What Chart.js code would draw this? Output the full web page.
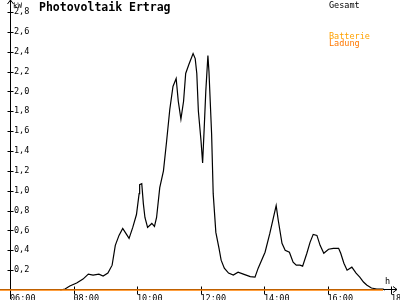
<!DOCTYPE html>
<html>
<head>
<meta charset="utf-8">
<script src="https://cdn.jsdelivr.net/npm/chart.js@4/dist/chart.umd.min.js"></script>
<style>
  body { margin: 0; background: #fff; }
  canvas { display: block; }
</style>
</head>
<body>
<canvas id="pv-chart" width="400" height="300"></canvas>
<script>
// PV Ertrag (Gesamt)
var times = ["07:35","07:44","07:53","08:06","08:18","08:28","08:37","08:48","08:56","09:05",
  "09:13","09:19","09:26","09:33","09:39","09:45","09:52","09:59","10:04","10:05",
  "10:09","10:12","10:15","10:20","10:28","10:33","10:37","10:43","10:50","10:56",
  "11:02","11:08","11:14","11:18","11:23","11:28","11:32","11:38","11:46","11:50",
  "11:53","11:56","12:01","12:04","12:07","12:10","12:14","12:16","12:21","12:24",
  "12:29","12:35","12:39","12:45","12:53","13:02","13:11","13:21","13:34","13:43",
  "13:49","14:02","14:11","14:23","14:27","14:34","14:40","14:48","14:55","15:01",
  "15:08","15:13","15:21","15:27","15:33","15:40","15:46","15:53","16:02","16:11",
  "16:21","16:25","16:31","16:37","16:46","16:54","17:01","17:08","17:14","17:23",
  "17:33","17:45","17:49"];
var gesamt = [0.00,0.01,0.04,0.07,0.11,0.16,0.15,0.16,0.14,0.17,
  0.25,0.45,0.55,0.62,0.57,0.52,0.63,0.76,0.97,1.06,
  1.07,0.87,0.73,0.63,0.67,0.64,0.73,1.03,1.20,1.50,
  1.82,2.05,2.13,1.90,1.72,1.90,2.18,2.27,2.38,2.33,
  2.18,1.80,1.50,1.28,1.63,2.00,2.36,2.20,1.57,0.97,
  0.58,0.42,0.30,0.22,0.17,0.15,0.18,0.16,0.135,0.13,
  0.22,0.38,0.57,0.85,0.70,0.47,0.40,0.38,0.28,0.25,
  0.25,0.24,0.37,0.48,0.56,0.55,0.45,0.37,0.41,0.42,
  0.42,0.37,0.27,0.20,0.23,0.17,0.13,0.08,0.05,0.02,
  0.01,0.01,0.00];

// Batterie Ladung
var ladungTimes = ["05:41", "17:45"];
var ladung = [0, 0];

var yTicks = [0.2, 0.4, 0.6, 0.8, 1.0, 1.2, 1.4, 1.6, 1.8, 2.0, 2.2, 2.4, 2.6, 2.8];
var xTickHours = [6, 8, 10, 12, 14, 16, 18];

function toHours(t) {
  var p = t.split(":");
  return parseInt(p[0], 10) + parseInt(p[1], 10) / 60;
}
function pad2(n) { return (n < 10 ? "0" : "") + n; }

var mono = "'DejaVu Sans Mono', monospace";

var axisDecor = {
  id: "axisDecor",
  beforeDatasetsDraw(chart) {
    var ctx = chart.ctx;
    var x = chart.scales.x, y = chart.scales.y;
    var x0 = Math.round(x.getPixelForValue(6)) + 0.5;
    var y0 = Math.round(y.getPixelForValue(0)) - 0.5;
    ctx.save();
    ctx.strokeStyle = "#000";
    ctx.lineWidth = 1;
    ctx.beginPath();
    ctx.moveTo(x0, 299);
    ctx.lineTo(x0, 0);
    ctx.moveTo(0, y0);
    ctx.lineTo(397, y0);
    y.ticks.forEach(function (t) {
      if (t.value <= 0) return;
      var p = Math.round(y.getPixelForValue(t.value)) + 0.5;
      ctx.moveTo(x0 - 3, p);
      ctx.lineTo(x0 + 3, p);
    });
    x.ticks.forEach(function (t) {
      var p = Math.round(x.getPixelForValue(t.value)) + 0.5;
      ctx.moveTo(p, y0 - 3);
      ctx.lineTo(p, y0 + 5);
    });
    // arrows
    ctx.moveTo(x0 - 3, 4);
    ctx.lineTo(x0, 0);
    ctx.lineTo(x0 + 3, 4);
    ctx.moveTo(393, y0 - 3);
    ctx.lineTo(397, y0);
    ctx.lineTo(393, y0 + 3);
    ctx.stroke();
    ctx.restore();
  },
  afterDraw(chart) {
    var ctx = chart.ctx;
    ctx.save();
    ctx.textBaseline = "alphabetic";
    ctx.textAlign = "left";
    ctx.fillStyle = "#000";
    ctx.font = "bold 11.5px " + mono;
    ctx.fillText("Photovoltaik Ertrag", 39, 11);
    ctx.font = "7.5px " + mono;
    ctx.fillText("kW", 13, 8);
    ctx.font = "8.5px " + mono;
    ctx.fillText("Gesamt", 329, 8);
    ctx.fillText("h", 385, 284);
    ctx.fillStyle = "#ffa200";
    ctx.fillText("Batterie", 329, 39);
    ctx.fillStyle = "#ff7800";
    ctx.fillText("Ladung", 329, 46);
    ctx.restore();
  }
};

var ctx1 = document.getElementById("pv-chart").getContext("2d");

new Chart(ctx1, {
  type: "line",
  data: {
    datasets: [
      {
        label: "Batterie Ladung",
        data: ladungTimes.map(function (t, i) { return { x: toHours(t), y: ladung[i] }; }),
        borderColor: "#ff8000",
        borderWidth: 1.5,
        pointRadius: 0,
        tension: 0,
        clip: false,
      },
      {
        label: "Gesamt",
        data: times.map(function (t, i) { return { x: toHours(t), y: gesamt[i] }; }),
        borderColor: "#000",
        borderWidth: 1.2,
        pointRadius: 0,
        tension: 0,
        clip: false,
      },
    ],
  },
  options: {
    responsive: false,
    animation: false,
    events: [],
    layout: { padding: { left: 0, right: 9, top: 0, bottom: 0 } },
    plugins: {
      legend: { display: false },
      tooltip: { enabled: false },
    },
    scales: {
      x: {
        type: "linear",
        min: 6,
        max: 18,
        grid: { display: false },
        border: { display: false },
        afterBuildTicks: function (s) {
          s.ticks = xTickHours.map(function (v) { return { value: v }; });
        },
        afterFit: function (s) {
          s.height = 10;
          s.paddingLeft = 0;
          s.paddingRight = 0;
        },
        ticks: {
          align: "start",
          maxRotation: 0,
          autoSkip: false,
          padding: -4,
          color: "#000",
          font: { family: "DejaVu Sans Mono", size: 8.5 },
          callback: function (v) { return pad2(v) + ":00"; },
        },
      },
      y: {
        min: 0,
        max: 2.92,
        grid: { display: false },
        border: { display: false },
        afterBuildTicks: function (s) {
          s.ticks = yTicks.map(function (v) { return { value: v }; });
        },
        afterFit: function (s) {
          s.width = 10;
          s.paddingTop = 0;
          s.paddingBottom = 0;
        },
        ticks: {
          mirror: true,
          padding: 4,
          autoSkip: false,
          color: "#000",
          font: { family: "DejaVu Sans Mono", size: 8.5 },
          callback: function (v) { return v.toFixed(1).replace(".", ","); },
        },
      },
    },
  },
  plugins: [axisDecor],
});
</script>
</body>
</html>
